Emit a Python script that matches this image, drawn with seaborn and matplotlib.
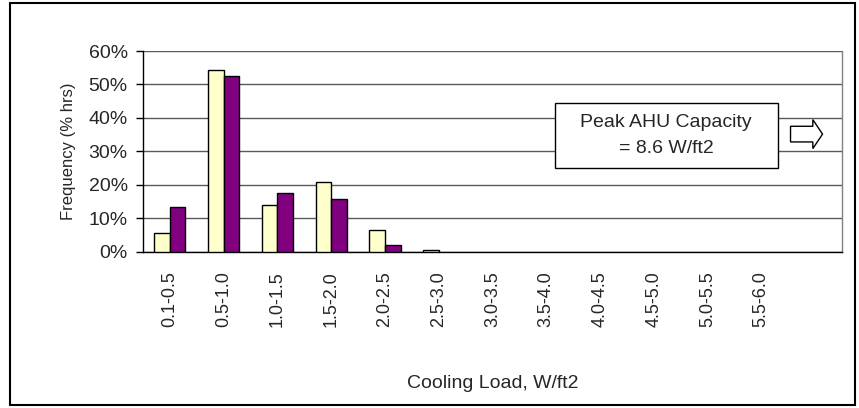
import matplotlib
matplotlib.use("Agg")
import matplotlib.pyplot as plt
import matplotlib.patches as mpatches
import matplotlib.ticker as mticker
import seaborn as sns
import pandas as pd

# Histogram of cooling load, two series (no legend on the original)
categories = ['0.1-0.5', '0.5-1.0', '1.0-1.5', '1.5-2.0', '2.0-2.5', '2.5-3.0',
              '3.0-3.5', '3.5-4.0', '4.0-4.5', '4.5-5.0', '5.0-5.5', '5.5-6.0', '']
series_a = [5.5, 54.2, 14.0, 20.8, 6.5, 0.4, 0, 0, 0, 0, 0, 0]
series_b = [13.5, 52.6, 17.5, 15.7, 1.9, 0, 0, 0, 0, 0, 0, 0]
series_names = ['Series 1', 'Series 2']
colours = ['#FFFFCC', '#800080']

df = pd.DataFrame({
    'load': categories[:len(series_a)] * 2,
    'freq': series_a + series_b,
    'series': [series_names[0]] * len(series_a) + [series_names[1]] * len(series_b),
})
# empty bins are drawn as nothing in the original
df.loc[df.freq == 0, 'freq'] = float('nan')

sns.set_theme(style="white")
plt.rcParams['font.family'] = ['Liberation Sans', 'DejaVu Sans']

fig = plt.figure(figsize=(8.59, 4.08), dpi=100)
ax = fig.add_axes([0.1665, 0.383, 0.8135, 0.492])

sns.barplot(data=df, x='load', y='freq', hue='series', order=categories,
            hue_order=series_names, palette=colours, width=0.58,
            edgecolor='black', linewidth=1, saturation=1, legend=False,
            ax=ax, zorder=3)

ax.set_ylim(0, 60)
ax.set_xlim(-0.5, len(categories) - 0.5)
ax.yaxis.set_major_locator(mticker.MultipleLocator(10))
ax.yaxis.set_major_formatter(mticker.FuncFormatter(lambda v, p: f'{v:.0f}%'))
ax.grid(axis='y', color='#5a5a5a', linewidth=1, zorder=0)
ax.set_axisbelow(True)

ax.set_xticks(range(len(categories)))
ax.set_xticklabels(categories, rotation=90, fontsize=13)
ax.set_xticks([i - 0.5 for i in range(len(categories) + 1)], minor=True)
ax.tick_params(axis='x', which='major', length=0, pad=14)
ax.tick_params(axis='x', which='minor', length=5, width=1, color='black', direction='out')
ax.tick_params(axis='y', length=5, width=1, color='black', direction='out',
               left=True, labelsize=14, pad=6)

for s in ['left', 'bottom']:
    ax.spines[s].set_color('black')
    ax.spines[s].set_linewidth(1)
ax.spines['top'].set_visible(False)
ax.spines['right'].set_color('#808080')
ax.spines['right'].set_linewidth(1)

ax.set_xlabel('Cooling Load, W/ft2', fontsize=14)
ax.set_ylabel('Frequency (% hrs)', fontsize=12)
ax.xaxis.set_label_coords(0.5, -0.614)
ax.yaxis.set_label_coords(-0.096, 0.5)

# Annotation box and hollow arrow
box = mpatches.Rectangle((0.589, 0.417), 0.319, 0.324, transform=ax.transAxes,
                         facecolor='white', edgecolor='black', linewidth=1, zorder=5)
ax.add_patch(box)
ax.text(0.7485, 0.579, 'Peak AHU Capacity\n= 8.6 W/ft2', transform=ax.transAxes,
        ha='center', va='center', fontsize=14, linespacing=1.75, zorder=6)
arrow = mpatches.FancyArrow(0.9266, 0.586, 0.0458, 0, width=0.078,
                            head_width=0.1445, head_length=0.0139,
                            length_includes_head=True, transform=ax.transAxes,
                            facecolor='white', edgecolor='black', linewidth=1, zorder=6)
ax.add_patch(arrow)

# Outer frame around the chart
frame = mpatches.Rectangle((10 / 859, 3 / 408), 845 / 859, 402 / 408,
                           transform=fig.transFigure, fill=False,
                           edgecolor='black', linewidth=1.5)
fig.patches.append(frame)

fig.savefig('out.png', dpi=100)
